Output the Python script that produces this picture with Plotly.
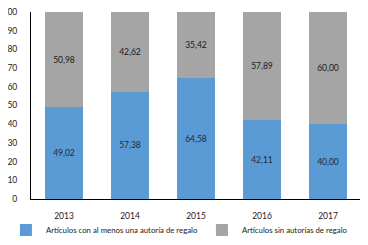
import plotly.graph_objects as go

years = ["2013", "2014", "2015", "2016", "2017"]
con_regalo = [49.02, 57.38, 64.58, 42.11, 40.00]
sin_regalo = [50.98, 42.62, 35.42, 57.89, 60.00]
y_ticks = [0, 10, 20, 30, 40, 50, 60, 70, 80, 90, 100]

def fmt(v):
    return f"{v:.2f}".replace(".", ",")

FONT = "Lato, sans-serif"

fig = go.Figure()
fig.add_trace(go.Bar(
    x=years, y=con_regalo, name="Artículos con al menos una autoría de regalo",
    marker_color="#5B9BD5", marker_line_width=0, legend="legend",
    text=[fmt(v) for v in con_regalo], textposition="inside",
    insidetextanchor="middle", textfont=dict(color="#1f2a3a", size=8.5),
))
fig.add_trace(go.Bar(
    x=years, y=sin_regalo, name="Artículos sin autorías de regalo",
    marker_color="#A5A5A5", marker_line_width=0, legend="legend2",
    text=[fmt(v) for v in sin_regalo], textposition="inside",
    insidetextanchor="middle", textfont=dict(color="#1a1a1a", size=8.5),
))
leg = dict(orientation="h", xanchor="left", y=-0.166, yanchor="middle",
           font=dict(size=7.8, color="#222"), itemwidth=30, bgcolor="rgba(0,0,0,0)")
# page body has an 8px default margin, so the figure is sized to fit the window
fig.update_layout(
    barmode="stack", bargap=0.41,
    width=360, height=237,
    margin=dict(l=23, r=7, t=4, b=46, autoexpand=False),
    plot_bgcolor="white", paper_bgcolor="white",
    font=dict(family=FONT, size=8.5, color="#222"),
    showlegend=True,
    legend=dict(leg, x=-0.076),
    legend2=dict(leg, x=0.518),
    uniformtext=dict(mode="show", minsize=7),
)
fig.update_xaxes(showline=True, linecolor="black", linewidth=1, ticks="", showgrid=False,
                 tickfont=dict(size=8.5), ticklabelstandoff=9, automargin=False)
fig.update_yaxes(range=[0, 100], tickvals=y_ticks, showline=True, linecolor="black",
                 linewidth=1, showgrid=False, zeroline=False, ticks="", tickfont=dict(size=8.5),
                 ticklabelstandoff=11, automargin=False, ticklabeloverflow="allow")
fig.write_html("out.html")
